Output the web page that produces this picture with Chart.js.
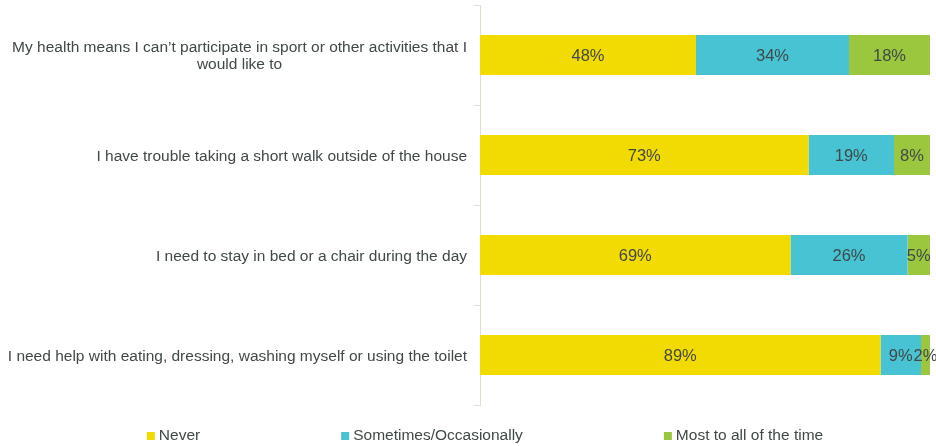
<!DOCTYPE html>
<html>
<head>
<meta charset="utf-8">
<script src="https://cdn.jsdelivr.net/npm/chart.js@4"></script>
<style>
html,body{margin:0;padding:0;background:#fff;}
#wrap{width:936px;height:446px;position:relative;}
</style>
</head>
<body>
<div id="wrap"><canvas id="c" width="936" height="446"></canvas></div>
<script>
const categories = [
  ["My health means I can\u2019t participate in sport or other activities that I", "would like to"],
  ["I have trouble taking a short walk outside of the house"],
  ["I need to stay in bed or a chair during the day"],
  ["I need help with eating, dressing, washing myself or using the toilet"]
];
const seriesNames = ["Never", "Sometimes/Occasionally", "Most to all of the time"];
const never = [48, 73, 69, 89];
const sometimes = [34, 19, 26, 9];
const mostAll = [18, 8, 5, 2];
const colors = ["#F2DB00", "#47C3D3", "#9BC73F"];

const textColor = "#404848";
const fontFamily = "'Liberation Sans', Arial, sans-serif";

const yLabelPlugin = {
  id: 'yLabels',
  afterDraw(chart) {
    const ctx = chart.ctx;
    const ys = chart.scales.y;
    const rightX = chart.chartArea.left - 13;
    ctx.save();
    ctx.font = "15.5px " + fontFamily;
    ctx.fillStyle = textColor;
    ctx.textBaseline = 'middle';
    categories.forEach((lines, i) => {
      const yc = ys.getPixelForValue(i) + 1.5;
      const lh = 17;
      const n = lines.length;
      if (n === 1) {
        ctx.textAlign = 'right';
        ctx.fillText(lines[0], rightX, yc);
      } else {
        const maxW = Math.max(...lines.map(l => ctx.measureText(l).width));
        const cx = rightX - maxW / 2;
        ctx.textAlign = 'center';
        lines.forEach((l, k) => {
          ctx.fillText(l, cx, yc + (k - (n - 1) / 2) * lh);
        });
      }
    });
    ctx.restore();
  }
};

const dataLabelPlugin = {
  id: 'dataLabels',
  afterDatasetsDraw(chart) {
    const ctx = chart.ctx;
    ctx.save();
    ctx.font = "16.5px " + fontFamily;
    ctx.fillStyle = textColor;
    ctx.textAlign = 'center';
    ctx.textBaseline = 'middle';
    chart.data.datasets.forEach((ds, di) => {
      const meta = chart.getDatasetMeta(di);
      meta.data.forEach((bar, i) => {
        const v = ds.data[i];
        const x = (bar.x + bar.base) / 2;
        ctx.fillText(v + "%", x, bar.y + 1);
      });
    });
    ctx.restore();
  }
};

const legendPlugin = {
  id: 'customLegend',
  afterDraw(chart) {
    const ctx = chart.ctx;
    ctx.save();
    ctx.font = "15.5px " + fontFamily;
    ctx.textBaseline = 'middle';
    ctx.textAlign = 'left';
    const box = 8, gap = 4, pad = 141;
    const widths = seriesNames.map(n => box + gap + ctx.measureText(n).width);
    const total = widths.reduce((a, b) => a + b, 0) + pad * (widths.length - 1);
    let x = 485 - total / 2;
    const y = 436;
    seriesNames.forEach((n, i) => {
      ctx.fillStyle = colors[i];
      ctx.fillRect(x, y - box / 2, box, box);
      ctx.fillStyle = textColor;
      ctx.fillText(n, x + box + gap, y);
      x += widths[i] + pad;
    });
    ctx.restore();
  }
};

new Chart(document.getElementById('c'), {
  type: 'bar',
  data: {
    labels: categories,
    datasets: [
      { label: seriesNames[0], data: never, backgroundColor: colors[0] },
      { label: seriesNames[1], data: sometimes, backgroundColor: colors[1] },
      { label: seriesNames[2], data: mostAll, backgroundColor: colors[2] }
    ]
  },
  options: {
    indexAxis: 'y',
    responsive: false,
    animation: false,
    devicePixelRatio: 1,
    layout: { padding: { left: 0, right: 6, top: 5, bottom: 41 } },
    datasets: { bar: { barPercentage: 0.4, categoryPercentage: 1.0 } },
    scales: {
      x: { stacked: true, min: 0, max: 100, display: false },
      y: {
        stacked: true,
        offset: true,
        ticks: { display: false },
        grid: {
          offset: true,
          drawOnChartArea: false,
          drawTicks: true,
          tickLength: 6,
          color: '#DCE3CC',
          tickColor: '#DCE3CC'
        },
        border: { display: true, color: '#DCE3CC', width: 1 },
        afterFit(scale) { scale.width = 480; }
      }
    },
    plugins: {
      legend: { display: false },
      tooltip: { enabled: false }
    }
  },
  plugins: [yLabelPlugin, dataLabelPlugin, legendPlugin]
});
</script>
</body>
</html>
